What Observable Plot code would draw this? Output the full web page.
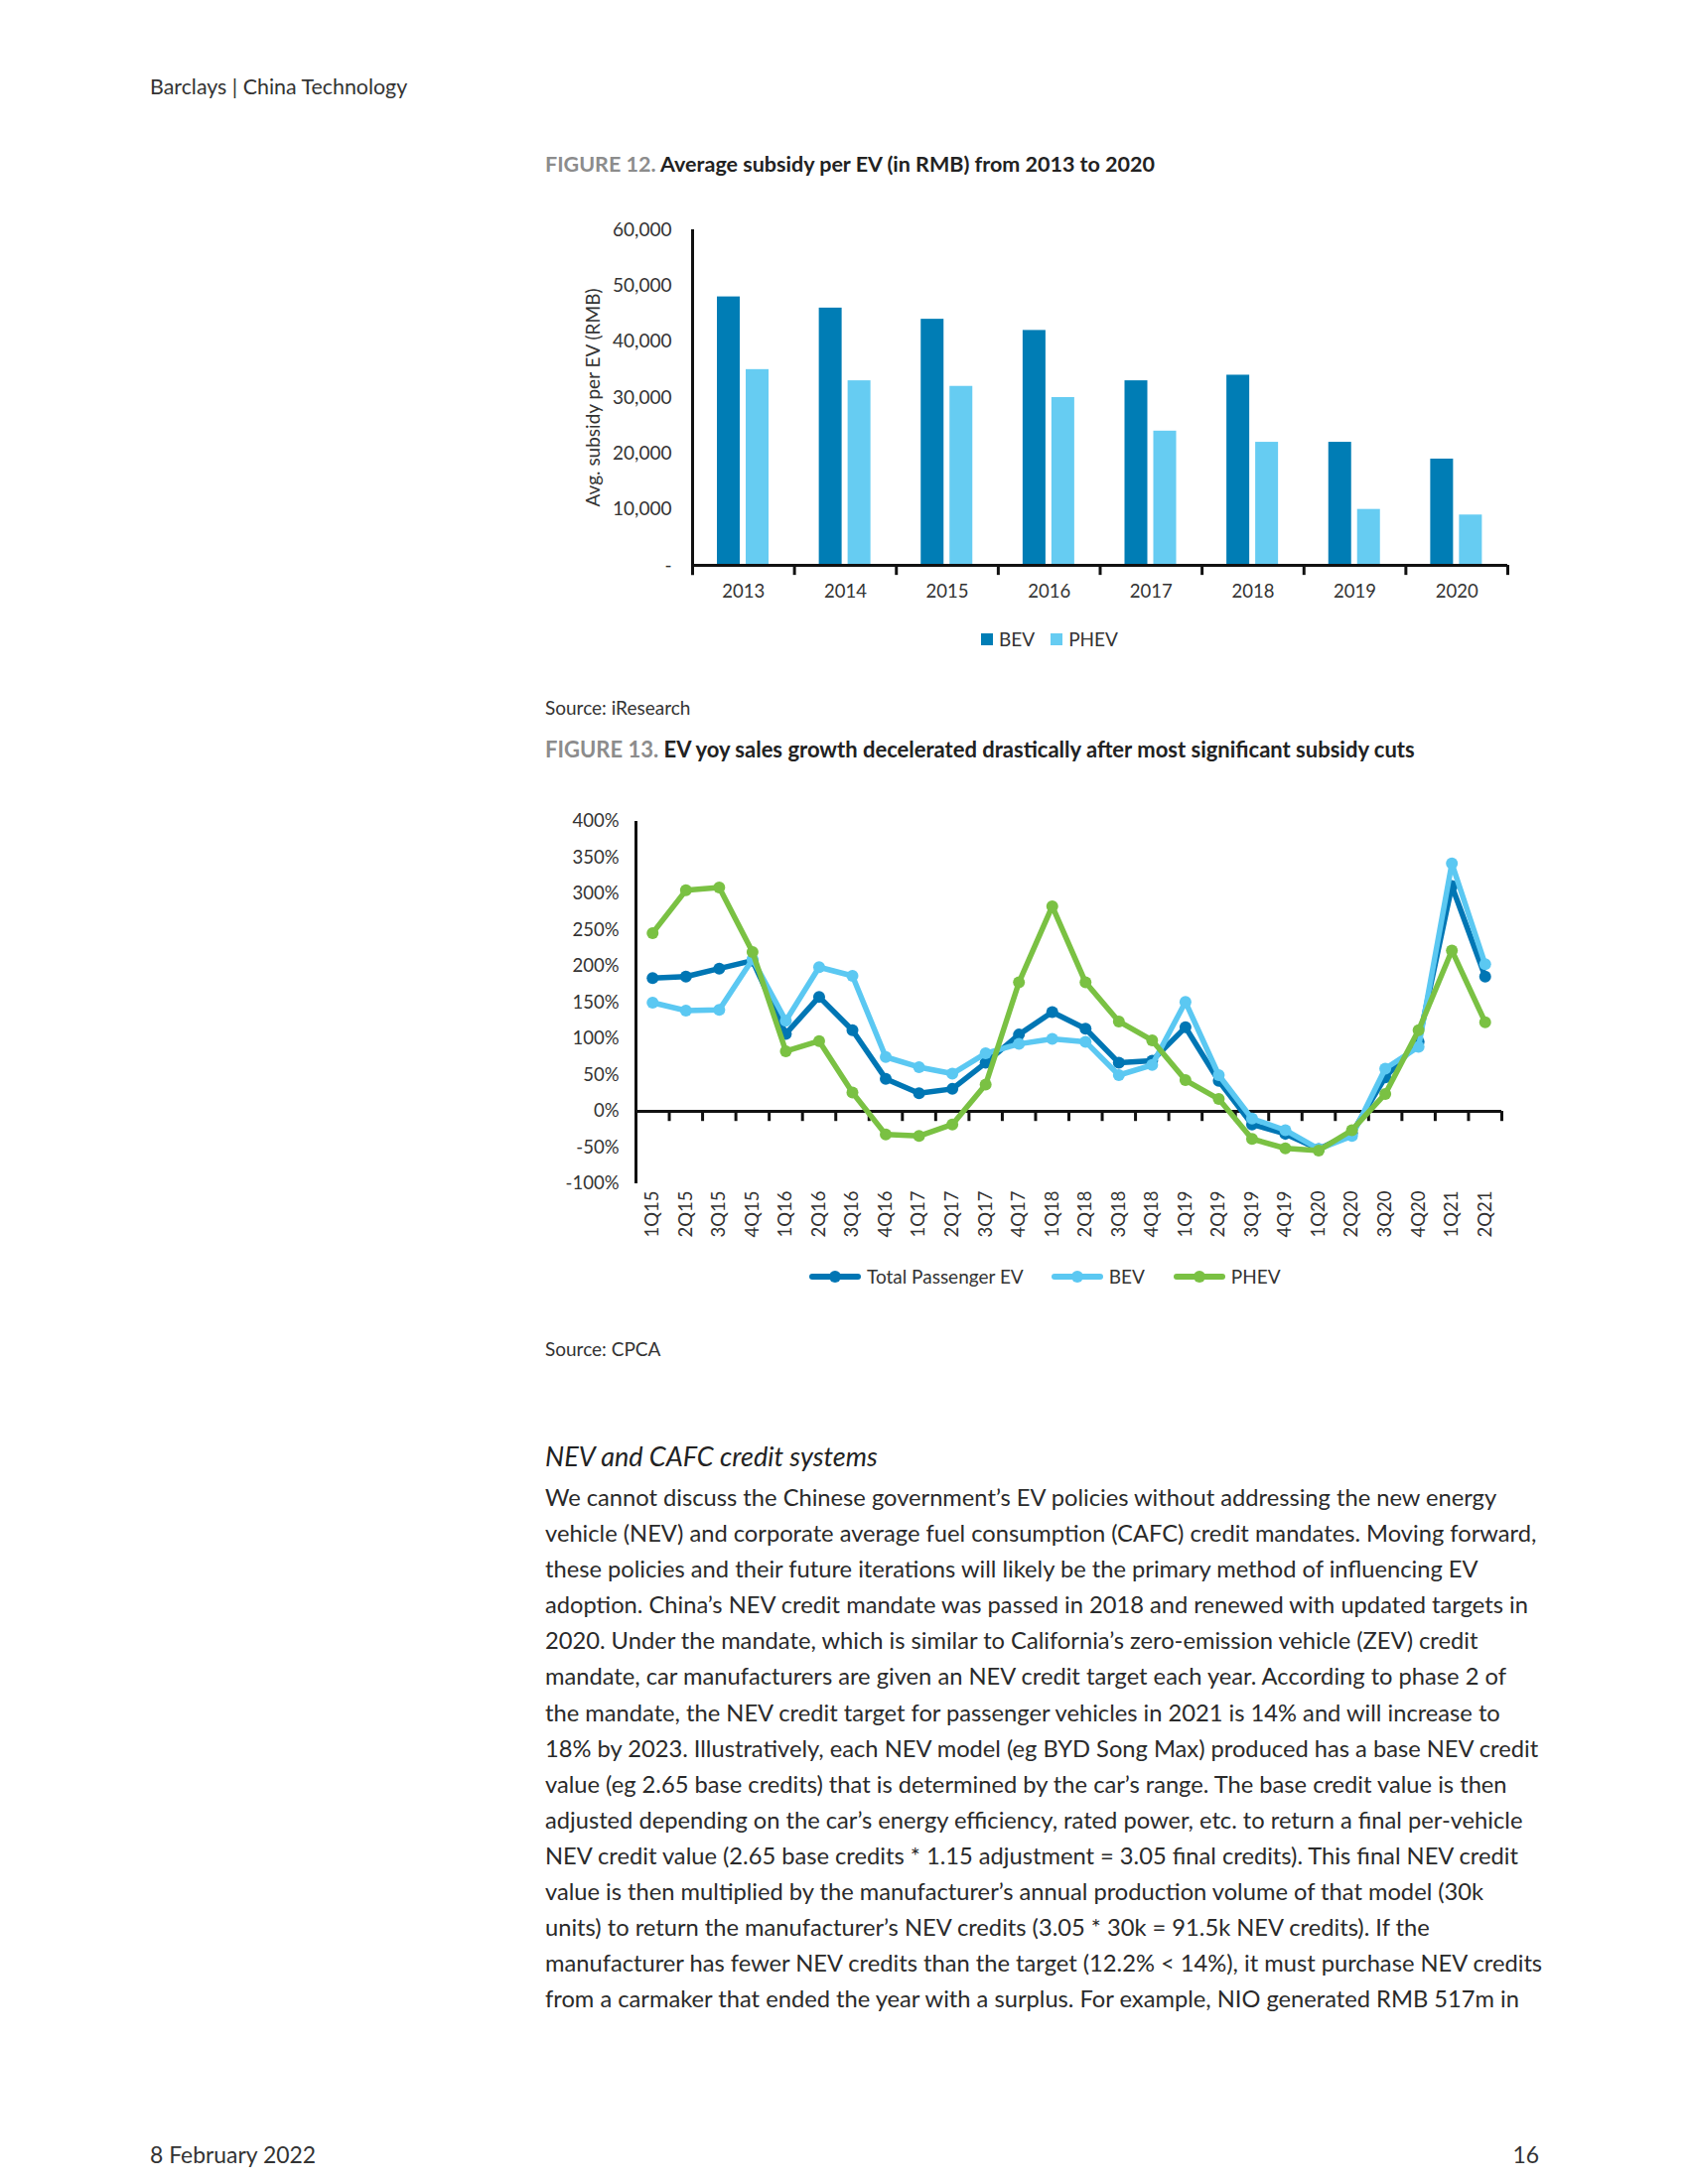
<!DOCTYPE html>
<html><head><meta charset="utf-8">
<script src="https://cdn.jsdelivr.net/npm/d3@7"></script>
<script src="https://cdn.jsdelivr.net/npm/@observablehq/plot@0.6"></script>
<style>
html,body{margin:0;padding:0;background:#fff;}
#page{position:relative;width:1700px;height:2200px;font-family:Lato,"Open Sans",sans-serif;color:#333;overflow:hidden;}
.abs{position:absolute;white-space:nowrap;}
.ftitle{font-size:21.5px;line-height:26px;font-weight:700;color:#222;}
.ftitle .num{color:#8c8c8c;}
.src{font-size:19px;line-height:22px;color:#333;}
.body{left:549px;font-size:23.7px;line-height:36.1px;color:#2a2a2a;}
.chart{position:absolute;left:0;}
.leg{position:absolute;display:flex;align-items:center;font-size:19px;line-height:24px;color:#333;white-space:nowrap;}
.sw{display:inline-block;width:12px;height:12px;margin-right:6px;}
.ls{position:relative;display:inline-block;width:52px;height:6px;border-radius:3px;margin-right:6px;}
.ls::after{content:"";position:absolute;left:20px;top:-3px;width:12px;height:12px;border-radius:50%;background:inherit;}
</style></head>
<body><div id="page">
<div class="abs" style="left:151px;top:74px;font-size:21.4px;line-height:26px;color:#333;">Barclays | China Technology</div>

<div class="abs ftitle" style="left:549px;top:152px;"><span class="num">FIGURE 12.</span> Average subsidy per EV (in RMB) from 2013 to 2020</div>
<div id="chart12" class="chart" style="top:200px;"></div>
<div class="leg" style="left:988px;top:632px;"><span class="sw" style="background:#007DB5"></span><span style="margin-right:16px">BEV</span><span class="sw" style="background:#66CCF2"></span><span>PHEV</span></div>
<div class="abs src" style="left:549px;top:702px;">Source: iResearch</div>

<div class="abs ftitle" style="left:549px;top:742px;font-size:22px;"><span class="num">FIGURE 13.</span> EV yoy sales growth decelerated drastically after most significant subsidy cuts</div>
<div id="chart13" class="chart" style="top:790px;"></div>
<div class="leg" style="left:815px;top:1274px;">
<span class="ls" style="background:#0076B4"></span><span style="margin-right:28px">Total Passenger EV</span>
<span class="ls" style="background:#5BC8F2"></span><span style="margin-right:29px">BEV</span>
<span class="ls" style="background:#7AC143"></span><span>PHEV</span>
</div>
<div class="abs src" style="left:549px;top:1348px;">Source: CPCA</div>

<div class="abs" style="left:549px;top:1451px;font-size:27px;line-height:32px;font-style:italic;color:#222;">NEV and CAFC credit systems</div>
<div id="bodytext" class="abs body" style="top:1490px;"></div>

<div class="abs" style="left:151px;top:2156px;font-size:22.9px;line-height:28px;color:#333;">8 February 2022</div>
<div class="abs" style="left:1450px;width:100px;text-align:right;top:2156px;font-size:22.9px;line-height:28px;color:#333;">16</div>
</div>
<script>
// ---------- Figure 12 data ----------
const years = ["2013","2014","2015","2016","2017","2018","2019","2020"];
const bevSubsidy = [48000,46000,44000,42000,33000,34000,22000,19000];
const phevSubsidy = [35000,33000,32000,30000,24000,22000,10000,9000];
const subsidyTicks = [0,10000,20000,30000,40000,50000,60000];

// ---------- Figure 13 data ----------
const quarters = ["1Q15","2Q15","3Q15","4Q15","1Q16","2Q16","3Q16","4Q16","1Q17","2Q17","3Q17","4Q17","1Q18","2Q18","3Q18","4Q18","1Q19","2Q19","3Q19","4Q19","1Q20","2Q20","3Q20","4Q20","1Q21","2Q21"];
const totalGrowth = [184,186,197,208,107,158,112,45,25,31,67,106,137,114,67,70,116,42,-18,-31,-52,-30,47,96,311,186];
const bevGrowth = [150,139,140,210,125,199,187,75,61,52,80,93,100,96,50,64,151,50,-10,-26,-52,-34,59,89,342,203];
const phevGrowth = [246,305,309,220,83,97,26,-32,-34,-18,37,178,283,178,124,98,43,17,-38,-51,-54,-26,24,112,222,123];
const growthTicks = [-100,-50,0,50,100,150,200,250,300,350,400];

const bodyLines = [
"We cannot discuss the Chinese government\u2019s EV policies without addressing the new energy",
"vehicle (NEV) and corporate average fuel consumption (CAFC) credit mandates. Moving forward,",
"these policies and their future iterations will likely be the primary method of influencing EV",
"adoption. China\u2019s NEV credit mandate was passed in 2018 and renewed with updated targets in",
"2020. Under the mandate, which is similar to California\u2019s zero-emission vehicle (ZEV) credit",
"mandate, car manufacturers are given an NEV credit target each year. According to phase 2 of",
"the mandate, the NEV credit target for passenger vehicles in 2021 is 14% and will increase to",
"18% by 2023. Illustratively, each NEV model (eg BYD Song Max) produced has a base NEV credit",
"value (eg 2.65 base credits) that is determined by the car\u2019s range. The base credit value is then",
"adjusted depending on the car\u2019s energy efficiency, rated power, etc. to return a final per-vehicle",
"NEV credit value (2.65 base credits * 1.15 adjustment = 3.05 final credits). This final NEV credit",
"value is then multiplied by the manufacturer\u2019s annual production volume of that model (30k",
"units) to return the manufacturer\u2019s NEV credits (3.05 * 30k = 91.5k NEV credits). If the",
"manufacturer has fewer NEV credits than the target (12.2% < 14%), it must purchase NEV credits",
"from a carmaker that ended the year with a surplus. For example, NIO generated RMB 517m in"
];
const bt = document.getElementById("bodytext");
bodyLines.forEach(t => { const d = document.createElement("div"); d.textContent = t; bt.appendChild(d); });

const C_BEV = "#007DB5", C_PHEV = "#66CCF2";
const C_TOT = "#0076B4", C_BEVL = "#5BC8F2", C_GRN = "#7AC143";
const AX = "#111";
const font = {fontFamily: "Lato, 'Open Sans', sans-serif", fontSize: "18.5px", color: "#333", background: "transparent", overflow: "visible"};

// ---------- Figure 12 ----------
{
  const mL = 697, mR = 182, W = 1700;
  const bw = (W - mL - mR) / years.length;
  const bev = years.map((y, i) => ({year: y, v: bevSubsidy[i]}));
  const phev = years.map((y, i) => ({year: y, v: phevSubsidy[i]}));
  const chart = Plot.plot({
    width: W, height: 419, marginLeft: mL, marginRight: mR, marginTop: 31, marginBottom: 50,
    style: font,
    x: {type: "band", domain: years, padding: 0, round: false},
    y: {domain: [0, 60000]},
    marks: [
      Plot.axisY({ticks: subsidyTicks, tickSize: 0, tickPadding: 21,
        tickFormat: d => d === 0 ? "-" : d3.format(",")(d),
        label: "Avg. subsidy per EV (RMB)", labelAnchor: "center", labelOffset: 107, labelArrow: "none",
        fontSize: 19}),
      Plot.axisX({tickSize: 0, tickPadding: 19, label: null}),
      Plot.barY(bev, {x: "year", y: "v", fill: C_BEV, insetLeft: 25, insetRight: bw - 48}),
      Plot.barY(phev, {x: "year", y: "v", fill: C_PHEV, insetLeft: 54, insetRight: bw - 77}),
      Plot.ruleY([0], {stroke: AX, strokeWidth: 3}),
      Plot.ruleX([years[0]], {x: d => d, y1: -1800, y2: 60000, dx: -bw / 2, stroke: AX, strokeWidth: 3}),
      Plot.ruleX(years.slice(1), {x: d => d, y1: 0, y2: -1800, dx: -bw / 2, stroke: AX, strokeWidth: 3}),
      Plot.ruleX([years[years.length - 1]], {x: d => d, y1: 0, y2: -1800, dx: bw / 2, stroke: AX, strokeWidth: 3})
    ]
  });
  document.getElementById("chart12").appendChild(chart);
}

// ---------- Figure 13 ----------
{
  const mL = 640, mR = 188, W = 1700;
  const bw = (W - mL - mR) / quarters.length;
  const mk = arr => quarters.map((q, i) => ({q, v: arr[i]}));
  const tot = mk(totalGrowth), bev = mk(bevGrowth), phev = mk(phevGrowth);
  const series = [[tot, C_TOT], [bev, C_BEVL], [phev, C_GRN]];
  const chart = Plot.plot({
    width: W, height: 477, marginLeft: mL, marginRight: mR, marginTop: 37, marginBottom: 75,
    style: font,
    x: {type: "band", domain: quarters, padding: 0, round: false},
    y: {domain: [-100, 400]},
    marks: [
      Plot.axisY({ticks: growthTicks, tickSize: 0, tickPadding: 17, tickFormat: d => d + "%", label: null}),
      Plot.axisX({tickSize: 0, tickRotate: -90, tickPadding: 7, label: null}),
      Plot.ruleY([0], {stroke: AX, strokeWidth: 3}),
      Plot.ruleX([quarters[0]], {x: d => d, y1: -100, y2: 400, dx: -bw / 2, stroke: AX, strokeWidth: 3}),
      Plot.ruleX(quarters.slice(1), {x: d => d, y1: 0, y2: -14, dx: -bw / 2, stroke: AX, strokeWidth: 3}),
      Plot.ruleX([quarters[quarters.length - 1]], {x: d => d, y1: 0, y2: -14, dx: bw / 2, stroke: AX, strokeWidth: 3}),
      ...series.flatMap(([d, c]) => [
        Plot.line(d, {x: "q", y: "v", stroke: c, strokeWidth: 5.5, strokeLinejoin: "round", strokeLinecap: "round"}),
        Plot.dot(d, {x: "q", y: "v", r: 6, fill: c})
      ])
    ]
  });
  document.getElementById("chart13").appendChild(chart);
}
</script>
</body></html>
